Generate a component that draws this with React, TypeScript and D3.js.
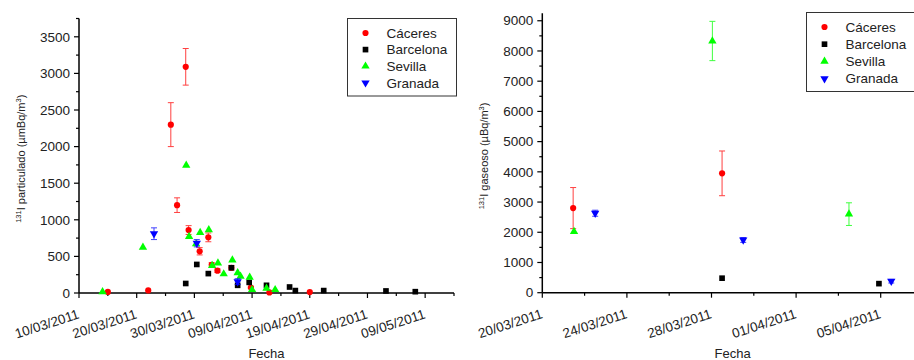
import * as d3 from "d3"

const parse = d3.timeParse("%d/%m/%Y %H")
const fmt = d3.timeFormat("%d/%m/%Y")

type Pt = { date: string; value: number; err?: number }

// particulate 131I (left panel)
const caceresPart: Pt[] = [
  { date: "15/03/2011 00", value: 15 },
  { date: "22/03/2011 00", value: 35 },
  { date: "25/03/2011 22", value: 2300, err: 300 },
  { date: "27/03/2011 00", value: 1200, err: 100 },
  { date: "28/03/2011 12", value: 3090, err: 250 },
  { date: "29/03/2011 00", value: 860, err: 60 },
  { date: "30/03/2011 22", value: 570, err: 50 },
  { date: "01/04/2011 10", value: 760, err: 60 },
  { date: "02/04/2011 00", value: 385, err: 30 },
  { date: "03/04/2011 00", value: 305, err: 25 },
  { date: "05/04/2011 10", value: 345, err: 30 },
  { date: "08/04/2011 19", value: 75, err: 15 },
  { date: "12/04/2011 00", value: 8 },
  { date: "19/04/2011 00", value: 12 },
]
const barcelonaPart: Pt[] = [
  { date: "28/03/2011 12", value: 130 },
  { date: "30/03/2011 10", value: 390 },
  { date: "01/04/2011 10", value: 265 },
  { date: "05/04/2011 10", value: 345 },
  { date: "06/04/2011 12", value: 105 },
  { date: "08/04/2011 12", value: 145 },
  { date: "11/04/2011 12", value: 105 },
  { date: "15/04/2011 12", value: 82 },
  { date: "16/04/2011 12", value: 33 },
  { date: "21/04/2011 10", value: 33 },
  { date: "02/05/2011 05", value: 28 },
  { date: "07/05/2011 07", value: 18 },
]
const sevillaPart: Pt[] = [
  { date: "14/03/2011 02", value: 15 },
  { date: "21/03/2011 02", value: 625 },
  { date: "28/03/2011 14", value: 1745 },
  { date: "29/03/2011 02", value: 770 },
  { date: "30/03/2011 07", value: 670 },
  { date: "31/03/2011 00", value: 825 },
  { date: "01/04/2011 12", value: 862 },
  { date: "02/04/2011 02", value: 375 },
  { date: "03/04/2011 02", value: 410 },
  { date: "04/04/2011 02", value: 260 },
  { date: "05/04/2011 14", value: 450 },
  { date: "06/04/2011 12", value: 277 },
  { date: "07/04/2011 00", value: 228 },
  { date: "08/04/2011 14", value: 214 },
  { date: "09/04/2011 00", value: 45 },
  { date: "11/04/2011 12", value: 64 },
  { date: "13/04/2011 00", value: 45 },
]
const granadaPart: Pt[] = [
  { date: "23/03/2011 00", value: 810, err: 80 },
  { date: "30/03/2011 10", value: 680, err: 50 },
  { date: "06/04/2011 12", value: 155, err: 40 },
]

// gaseous 131I (right panel)
const caceresGas: Pt[] = [
  { date: "21/03/2011 11", value: 2800, err: 680 },
  { date: "28/03/2011 12", value: 3950, err: 740 },
]
const barcelonaGas: Pt[] = [
  { date: "28/03/2011 12", value: 480 },
  { date: "04/04/2011 22", value: 300 },
]
const sevillaGas: Pt[] = [
  { date: "21/03/2011 12", value: 2020 },
  { date: "28/03/2011 01", value: 8330, err: 650 },
  { date: "03/04/2011 12", value: 2600, err: 375 },
]
const granadaGas: Pt[] = [
  { date: "22/03/2011 12", value: 2630, err: 100 },
  { date: "29/03/2011 12", value: 1745, err: 80 },
  { date: "05/04/2011 12", value: 380, err: 60 },
]

const cities = ["Cáceres", "Barcelona", "Sevilla", "Granada"]
const colors = ["#ff0000", "#000000", "#00ff00", "#0000ff"]

const font = "'Liberation Sans', Arial, sans-serif"

function marker(i: number) {
  if (i === 0) return d3.symbol(d3.symbolCircle, 30)()
  if (i === 1) return d3.symbol(d3.symbolSquare, 32)()
  return d3.symbol(d3.symbolTriangle, 30)()
}

interface PanelProps {
  series: Pt[][]
  xDomain: [string, string]
  xRange: [number, number]
  tickStep: number
  yMax: number
  yRange: [number, number]
  yMajor: number
  yLabel: string
  unit: string
  legend: { x: number; y: number; row: number; w: number; h: number }
}

function Panel(p: PanelProps) {
  const x = d3.scaleTime().domain(p.xDomain.map((s) => parse(s)!)).range(p.xRange)
  const y = d3.scaleLinear().domain([0, p.yMax]).range(p.yRange)
  const [x0, x1] = p.xRange
  const y0 = p.yRange[0]

  const xTicks = d3.timeDay.range(x.domain()[0], d3.timeDay.offset(x.domain()[1], 1), p.tickStep)
  const yTicks = d3.range(0, p.yMax + 1, p.yMajor / 2)
  const cy = (p.yRange[0] + p.yRange[1]) / 2 + 3

  return (
    <g fontFamily={font}>
      {/* axes */}
      <line x1={x0} x2={x1} y1={y0} y2={y0} stroke="#000" strokeWidth={1.5} />
      <line x1={x0} x2={x0} y1={y0} y2={p.yRange[1]} stroke="#000" strokeWidth={1.5} />
      {xTicks.map((t, i) => {
        const major = i % 2 === 0
        const tx = x(t)
        return (
          <g key={"x" + i}>
            <line x1={tx} x2={tx} y1={y0} y2={y0 + (major ? 5 : 3)} stroke="#000" strokeWidth={1.2} />
            {major && (
              <text
                transform={`translate(${tx + 1},${y0 + 25}) rotate(-18)`}
                textAnchor="end"
                fontSize={13.5}
                fill="#222"
              >
                {fmt(t)}
              </text>
            )}
          </g>
        )
      })}
      {yTicks.map((v, i) => {
        const major = i % 2 === 0
        return (
          <g key={"y" + i}>
            <line x1={x0} x2={x0 - (major ? 5 : 3)} y1={y(v)} y2={y(v)} stroke="#000" strokeWidth={1.2} />
            {major && (
              <text x={x0 - 9} y={y(v)} dy="0.35em" textAnchor="end" fontSize={13.5} fill="#222">
                {v}
              </text>
            )}
          </g>
        )
      })}
      <text x={(x0 + x1) / 2} y={358} textAnchor="middle" fontSize={13} fill="#222">
        Fecha
      </text>
      <text
        transform={`translate(${x0 - 54},${cy}) rotate(-90)`}
        textAnchor="middle"
        fontSize={11}
        fill="#222"
      >
        <tspan fontSize={7.5} dy={-4}>131</tspan>
        <tspan dy={4}>{`I ${p.yLabel} (${p.unit}/m`}</tspan>
        <tspan fontSize={7.5} dy={-4}>3</tspan>
        <tspan dy={4}>)</tspan>
      </text>

      {/* data */}
      {p.series.map((s, si) => (
        <g key={"s" + si}>
          {s.map((d, k) => {
            const px = x(parse(d.date)!)
            const py = y(d.value)
            return (
              <g key={k}>
                {d.err && (
                  <g stroke={colors[si]} strokeWidth={1} opacity={0.75}>
                    <line x1={px} x2={px} y1={y(d.value - d.err)} y2={y(d.value + d.err)} />
                    <line x1={px - 3} x2={px + 3} y1={y(d.value - d.err)} y2={y(d.value - d.err)} />
                    <line x1={px - 3} x2={px + 3} y1={y(d.value + d.err)} y2={y(d.value + d.err)} />
                  </g>
                )}
                <path
                  d={marker(si)!}
                  transform={`translate(${px},${py})${si === 3 ? " rotate(180)" : ""}`}
                  fill={colors[si]}
                />
              </g>
            )
          })}
        </g>
      ))}

      {/* legend */}
      <rect
        x={p.legend.x}
        y={p.legend.y}
        width={p.legend.w}
        height={p.legend.h}
        fill="#fff"
        stroke="#333"
        strokeWidth={1}
      />
      {cities.map((c, i) => {
        const ly = p.legend.y + 14.5 + i * p.legend.row
        return (
          <g key={c}>
            <path
              d={marker(i)!}
              transform={`translate(${p.legend.x + 18},${ly})${i === 3 ? " rotate(180)" : ""}`}
              fill={colors[i]}
            />
            <text x={p.legend.x + 39} y={ly} dy="0.36em" fontSize={13.5} fill="#222">
              {c}
            </text>
          </g>
        )
      })}
    </g>
  )
}

export default function App() {
  return (
    <>
      <style>{"body{margin:0;background:#fff}"}</style>
      <svg width={914} height={360} style={{ display: "block" }}>
        <rect width={914} height={360} fill="#fff" />
        <Panel
          series={[caceresPart, barcelonaPart, sevillaPart, granadaPart]}
          xDomain={["10/03/2011 00", "14/05/2011 00"]}
          xRange={[79, 454]}
          tickStep={5}
          yMax={3750}
          yRange={[293, 18.5]}
          yMajor={500}
          yLabel="particulado"
          unit="µmBq"
          legend={{ x: 347.5, y: 18.5, row: 16.6, w: 109, h: 77.5 }}
        />
        <Panel
          series={[caceresGas, barcelonaGas, sevillaGas, granadaGas]}
          xDomain={["20/03/2011 00", "07/04/2011 00"]}
          xRange={[542.3, 923]}
          tickStep={2}
          yMax={9250}
          yRange={[292.7, 13.2]}
          yMajor={1000}
          yLabel="gaseoso"
          unit="µBq"
          legend={{ x: 806.5, y: 12.5, row: 17.2, w: 109, h: 79 }}
        />
      </svg>
    </>
  )
}
